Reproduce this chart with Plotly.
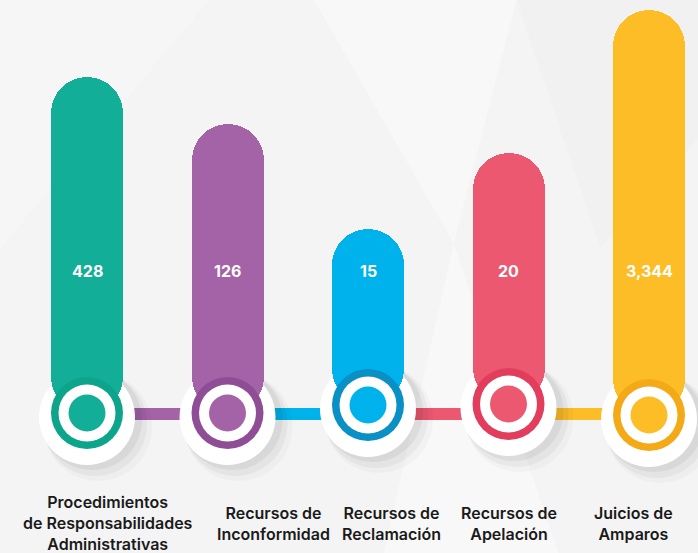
import plotly.graph_objects as go

# ---------------- data ----------------
categories = [
    "Procedimientos<br>de Responsabilidades<br>Administrativas",
    "Recursos de<br>Inconformidad",
    "Recursos de<br>Reclamación",
    "Recursos de<br>Apelación",
    "Juicios de<br>Amparos",
]
values = [428, 126, 15, 20, 3344]
value_labels = ["428", "126", "15", "20", "3,344"]
# drawn length of each pill above its ring (the infographic does not scale them to the values)
bar_lengths = [336, 289, 176, 251, 405]

# ---------------- styles ----------------
bar_colors = ["#12AE97", "#A463A7", "#00B2EB", "#EB5870", "#FCBD27"]
ring_colors = ["#0DA48C", "#8F4D96", "#0A90C4", "#E23D5D", "#F4AA16"]
ring_lift = [0, 0, 8, 9, -2]          # small vertical nudge of each ring
label_shift = [21, 46, 23, 0, -16]     # horizontal nudge of each caption
BG = "#F4F4F4"

W, H = 698, 553
PX_X = 140.5                           # pixels per category slot
x_range = [-87 / PX_X, 4 + 49 / PX_X]
y_range = [-140, 413]                  # 1 unit = 1 px

xs = list(range(len(categories)))


def circle(cx, cy, r_px, color, layer="below"):
    rx = r_px / PX_X
    return dict(type="circle", xref="x", yref="y", layer=layer,
                x0=cx - rx, x1=cx + rx, y0=cy - r_px, y1=cy + r_px,
                fillcolor=color, line=dict(width=0))


shapes = []
# faint lighter facets in the background
shapes.append(dict(type="path", xref="paper", yref="paper", layer="below",
                   path="M 0.45 1 L 0.74 1 L 0.65 0.56 Z",
                   fillcolor="rgba(255,255,255,0.4)", line=dict(width=0)))
shapes.append(dict(type="path", xref="paper", yref="paper", layer="below",
                   path="M 0 1 L 0.3 1 L 0 0.55 Z",
                   fillcolor="rgba(255,255,255,0.2)", line=dict(width=0)))
shapes.append(dict(type="path", xref="paper", yref="paper", layer="below",
                   path="M 0.74 1 L 1 1 L 1 0.75 L 0.86 0.55 Z",
                   fillcolor="rgba(235,235,235,0.3)", line=dict(width=0)))
shapes.append(dict(type="path", xref="paper", yref="paper", layer="below",
                   path="M 0.65 0.56 L 0.55 0 L 0.8 0 Z",
                   fillcolor="rgba(255,255,255,0.35)", line=dict(width=0)))

# connectors between rings (colour of the right-hand bar)
for i in range(len(xs) - 1):
    shapes.append(dict(type="line", xref="x", yref="y", layer="below",
                       x0=xs[i], x1=xs[i + 1], y0=-1, y1=-1,
                       line=dict(color=bar_colors[i + 1], width=12)))

# white discs with soft shadow
for i, x in enumerate(xs):
    cy = ring_lift[i]
    shapes.append(circle(x + 11 / PX_X, cy - 14, 54, "rgba(0,0,0,0.025)"))
    shapes.append(circle(x + 8 / PX_X, cy - 11, 52, "rgba(0,0,0,0.04)"))
    shapes.append(circle(x + 5 / PX_X, cy - 7, 50, "rgba(0,0,0,0.05)"))
    shapes.append(circle(x, cy - 4, 48, "#FFFFFF"))

fig = go.Figure()

fig.add_trace(go.Bar(
    x=xs, y=bar_lengths, base=ring_lift, width=72 / PX_X,
    marker=dict(color=bar_colors, cornerradius=36, line=dict(width=0)),
    customdata=values, hovertemplate="%{customdata}<extra></extra>",
    showlegend=False,
))

for size, cols in [(72, ring_colors), (57, ["#FFFFFF"] * 5), (37, bar_colors)]:
    fig.add_trace(go.Scatter(
        x=xs, y=ring_lift, mode="markers",
        marker=dict(size=size, color=cols, line=dict(width=0)),
        hoverinfo="skip", showlegend=False,
    ))

annotations = []
for i, x in enumerate(xs):
    annotations.append(dict(
        x=x, y=142, xref="x", yref="y", text=value_labels[i], showarrow=False,
        font=dict(family="Inter, Open Sans, sans-serif", size=16, color="white", weight=700),
        xanchor="center", yanchor="middle",
    ))
    annotations.append(dict(
        x=x, y=-110, xref="x", yref="y", text=categories[i], showarrow=False,
        xshift=label_shift[i],
        font=dict(family="Inter, Open Sans, sans-serif", size=16, color="#1A1A1A", weight=600),
        xanchor="center", yanchor="middle", align="center",
    ))

fig.update_layout(
    width=W, height=H,
    margin=dict(l=0, r=0, t=0, b=0),
    paper_bgcolor=BG, plot_bgcolor=BG,
    shapes=shapes, annotations=annotations,
    xaxis=dict(range=x_range, visible=False, fixedrange=True),
    yaxis=dict(range=y_range, visible=False, fixedrange=True),
    bargap=0, showlegend=False,
)

fig.write_html("out.html", config={"displayModeBar": False},
               post_script="document.body.style.margin='0';document.body.style.overflow='hidden';")
